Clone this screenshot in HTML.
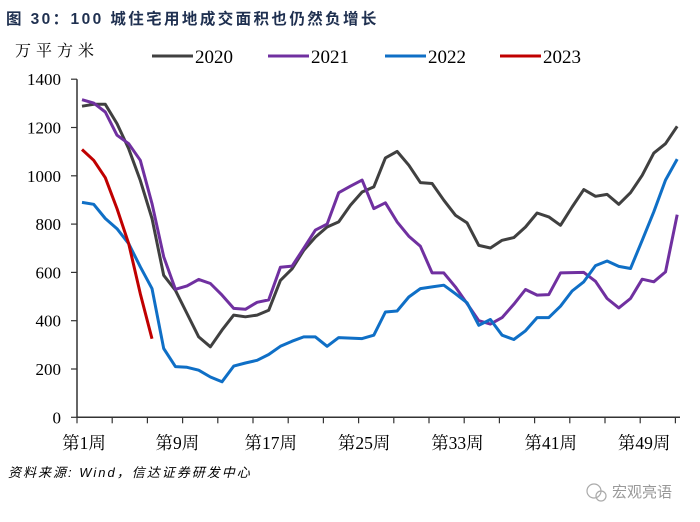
<!DOCTYPE html>
<html><head><meta charset="utf-8"><style>
body{margin:0;background:#fff;}
svg{display:block;}
</style></head><body>
<svg width="700" height="522" viewBox="0 0 700 522" xmlns="http://www.w3.org/2000/svg">
<text x="6" y="24" font-family="'Liberation Sans','Noto Sans CJK SC',sans-serif" font-size="15.5" font-weight="bold" letter-spacing="2.4" fill="#1f3050">图 30：100 城住宅用地成交面积也仍然负增长</text>
<text x="15" y="56" font-family="'Liberation Serif','Noto Serif CJK SC',serif" font-size="16" letter-spacing="5" fill="#000">万平方米</text>
<g id="legend"></g>
<g id="axes"></g>
<g id="series"></g>
<text x="8" y="477" font-family="'Liberation Sans','Noto Sans CJK SC',sans-serif" font-size="13" font-style="italic" letter-spacing="2" fill="#000">资料来源: Wind，信达证券研发中心</text>
<g>
<circle cx="594" cy="491" r="7" fill="none" stroke="#aaa" stroke-width="1.2"/>
<circle cx="601" cy="496" r="5" fill="none" stroke="#aaa" stroke-width="1.2"/>
<text x="612" y="497" font-family="'Noto Sans CJK SC',sans-serif" font-size="15" fill="#999">宏观亮语</text>
</g>
</svg>
<script>
const categories = Array.from({length:52},(_,i)=>'第'+(i+1)+'周');
const xLabels = ['第1周','第9周','第17周','第25周','第33周','第41周','第49周'];
const xLabelIdx = [0,8,16,24,32,40,48];
const yTicks = [0,200,400,600,800,1000,1200,1400];
const seriesNames = ['2020','2021','2022','2023'];
const s2020 = [1288,1296,1296,1216,1112,981,823,588,526,430,333,292,361,423,416,423,443,567,615,691,746,788,809,878,933,954,1074,1101,1044,972,968,899,837,805,712,701,733,744,788,846,830,795,871,943,915,923,882,930,1002,1094,1133,1205];
const s2021 = [1315,1301,1264,1168,1133,1064,885,665,530,544,571,554,506,451,447,476,486,621,626,700,775,800,930,957,982,864,888,809,750,708,598,598,540,471,400,386,413,468,529,506,508,598,599,600,563,492,453,492,572,561,602,839];
const s2022 = [890,882,823,781,719,623,533,285,210,207,195,167,147,212,225,236,260,294,315,333,333,294,330,328,326,340,436,440,498,533,540,547,512,474,381,405,340,322,358,413,413,460,523,561,628,647,625,616,733,851,982,1069];
const s2023 = [1109,1064,992,864,719,512,325];
const colors = ['#404040','#7030a0','#0f6fc6','#c00000'];

const NS='http://www.w3.org/2000/svg';
const x0=82, step=11.67, y0=417.3, pxPer=48.3/200;
const X=i=>x0+i*step;
const Y=v=>y0-v*pxPer;
function mk(tag,attrs,parent){const e=document.createElementNS(NS,tag);for(const k in attrs)e.setAttribute(k,attrs[k]);parent.appendChild(e);return e;}
const axes=document.getElementById('axes');
let yl=mk('line',{x1:77,y1:Y(1400),x2:77,y2:y0,stroke:'#333','stroke-width':1.5},axes);


let xl=mk('line',{x1:77,y1:y0,x2:680,y2:y0,stroke:'#333','stroke-width':1.5},axes);


yTicks.forEach(v=>{
  mk('line',{x1:71,y1:Y(v),x2:77,y2:Y(v),stroke:'#333','stroke-width':1.2},axes);
  const t=mk('text',{x:61,y:Y(v)+6,'text-anchor':'end','font-family':"'Liberation Serif',serif",'font-size':17,fill:'#000'},axes);
  t.textContent=v;
  
  
});
for(let k=0;k<18;k++){const tx=77+k*35.2;mk('line',{x1:tx,y1:y0,x2:tx,y2:y0+6,stroke:'#333','stroke-width':1.2},axes);}
xLabels.forEach((l,j)=>{
  const t=mk('text',{x:X(xLabelIdx[j])+2,y:449,'text-anchor':'middle','font-family':"'Liberation Serif','Noto Serif CJK SC',serif",'font-size':17.5,fill:'#000'},axes);
  t.textContent=l;
  
  
});
const ser=document.getElementById('series');
[s2020,s2021,s2022,s2023].forEach((d,si)=>{
  const p=mk('polyline',{points:d.map((v,i)=>X(i).toFixed(1)+','+Y(v).toFixed(1)).join(' '),fill:'none',stroke:colors[si],'stroke-width':3,'stroke-linejoin':'round'},ser);
  
  
});
const leg=document.getElementById('legend');
const lx=[152,268,385,500];
seriesNames.forEach((n,i)=>{
  mk('line',{x1:lx[i],y1:56,x2:lx[i]+41,y2:56,stroke:colors[i],'stroke-width':3},leg);
  const t=mk('text',{x:lx[i]+43,y:63,'font-family':"'Liberation Serif',serif",'font-size':19,fill:'#000'},leg);
  t.textContent=n;
  
  
});
</script>
</body></html>
